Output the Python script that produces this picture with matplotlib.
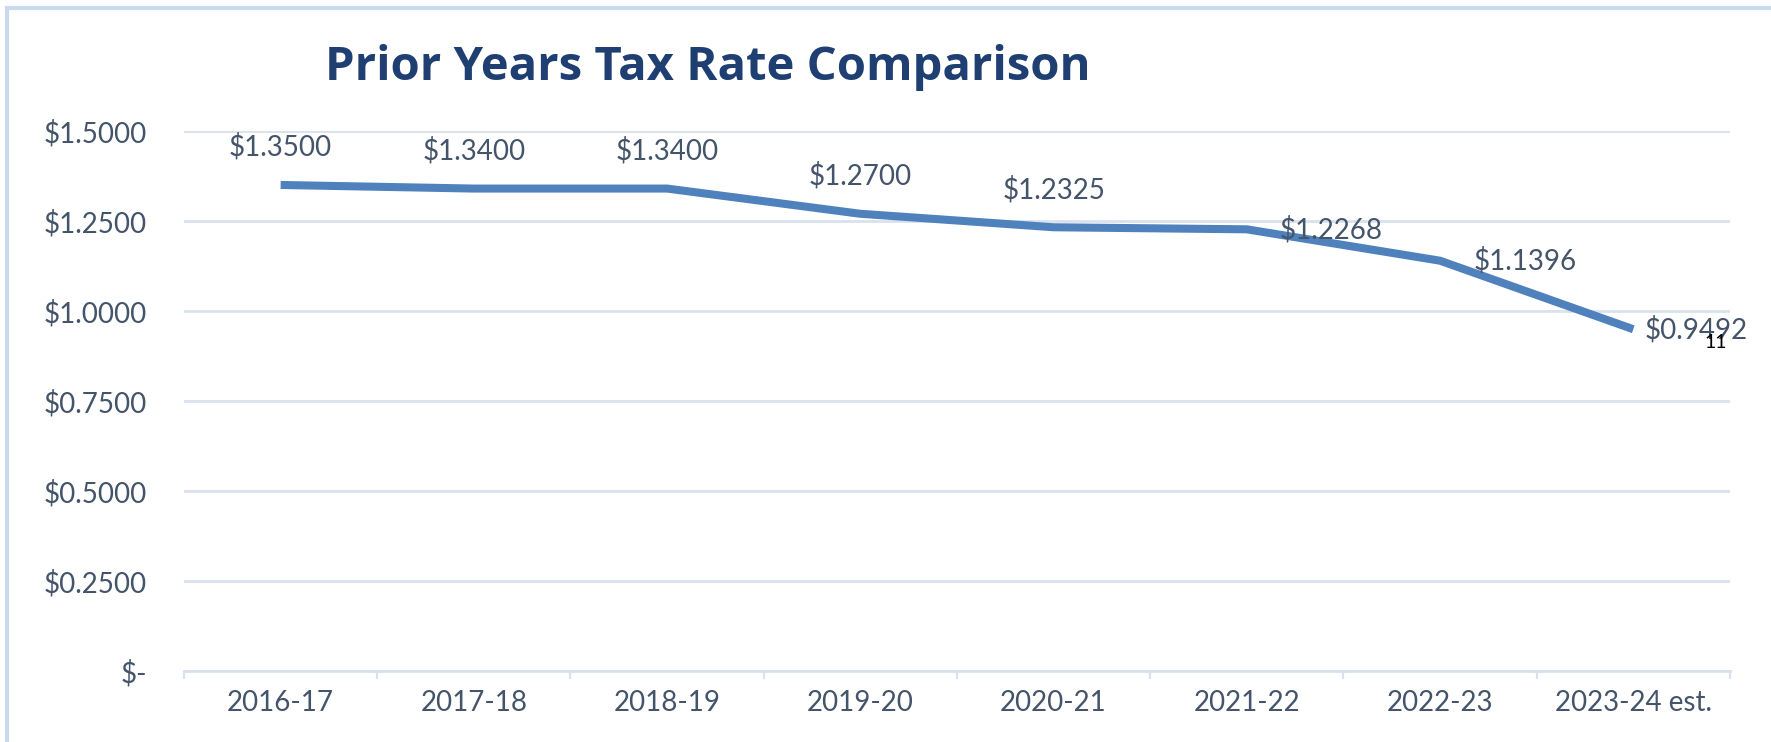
import matplotlib
matplotlib.use("Agg")

import matplotlib.pyplot as plt
import matplotlib.patches as mpatches
from matplotlib.ticker import FixedLocator

# data
years = ["2016-17", "2017-18", "2018-19", "2019-20", "2020-21",
         "2021-22", "2022-23", "2023-24 est."]
rates = [1.3500, 1.3400, 1.3400, 1.2700, 1.2325, 1.2268, 1.1396, 0.9492]
y_ticks = [0.0, 0.25, 0.5, 0.75, 1.0, 1.25, 1.5]
y_tick_labels = ["$-", "$0.2500", "$0.5000", "$0.7500",
                 "$1.0000", "$1.2500", "$1.5000"]

# label placement: "above" for the first five, "right" for the rest
label_pos = ["above"] * 5 + ["right"] * 3
right_gap_px = [0, 0, 0, 0, 0, 33, 34, 11]

LINE_BLUE = "#4F81BD"
TEXT_BLUE = "#44546A"
TITLE_BLUE = "#1F3F73"
GRID = "#D9E1EC"
FONT = "Lato"

fig = plt.figure(figsize=(17.71, 7.42), dpi=100)
ax = fig.add_axes([0.1039, 0.0957, 0.8729, 0.7278])

x = list(range(len(years)))
ax.plot(x, rates, color=LINE_BLUE, linewidth=5.8, solid_capstyle="butt",
        solid_joinstyle="round", zorder=3)

for i, (v, pos) in enumerate(zip(rates, label_pos)):
    txt = f"${v:.4f}"
    if pos == "above":
        ax.annotate(txt, (i, v), xytext=(0, 38), textcoords="offset pixels",
                    ha="center", va="center", fontsize=20, color=TEXT_BLUE,
                    family=FONT, zorder=4)
    else:
        ax.annotate(txt, (i, v), xytext=(right_gap_px[i], 0),
                    textcoords="offset pixels", ha="left", va="center",
                    fontsize=20, color=TEXT_BLUE, family=FONT, zorder=4)

ax.set_xlim(-0.5, len(years) - 0.5)
ax.set_ylim(0, 1.5)

ax.set_yticks(y_ticks)
ax.set_yticklabels(y_tick_labels, fontsize=20, color=TEXT_BLUE, family=FONT)
ax.set_xticks(x)
ax.set_xticklabels(years, fontsize=20, color=TEXT_BLUE, family=FONT)
ax.xaxis.set_minor_locator(FixedLocator([i - 0.5 for i in range(len(years) + 1)]))

ax.tick_params(axis="y", length=0, pad=26.5)
ax.tick_params(axis="x", which="major", length=0, pad=14)
ax.tick_params(axis="x", which="minor", length=6, width=1.6, color=GRID)

ax.grid(axis="y", color=GRID, linewidth=2)
ax.set_axisbelow(True)
for side in ["top", "right", "left"]:
    ax.spines[side].set_visible(False)
ax.spines["bottom"].set_color(GRID)
ax.spines["bottom"].set_linewidth(2)

fig.text(0.3998, 0.892, "Prior Years Tax Rate Comparison", ha="center",
         va="baseline", fontsize=34, fontweight="bold", color=TITLE_BLUE,
         family="Open Sans")

# page number overlay
fig.text(0.969, 0.538, "11", ha="center", va="center", fontsize=14,
         color="black", family=FONT)

# light frame around the chart
frame = mpatches.Rectangle((0.004, -0.02), 1.2, 1.009, transform=fig.transFigure,
                           fill=False, edgecolor="#C9DAEE", linewidth=3)
fig.patches.append(frame)

fig.savefig("out.png", dpi=100)
